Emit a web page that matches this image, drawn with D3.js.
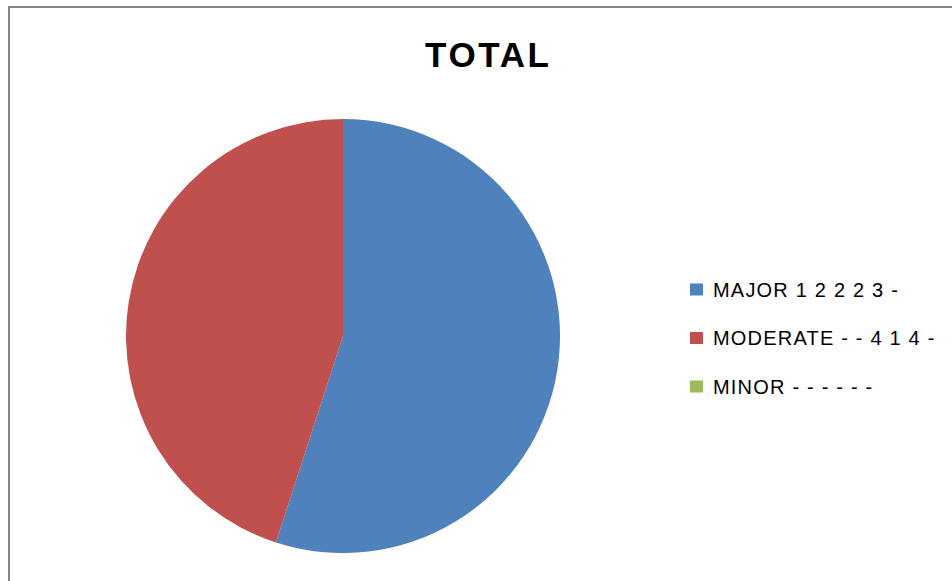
<!DOCTYPE html>
<html>
<head>
<meta charset="utf-8">
<script src="https://cdn.jsdelivr.net/npm/d3@7"></script>
<style>
  body { margin: 0; background: #fff; }
  svg { display: block; }
</style>
</head>
<body>
<div id="chart"></div>
<script>
// pie chart "TOTAL"

var width = 952,
	height = 581;

var categories = ['MAJOR', 'MODERATE', 'MINOR'];
var legend_labels = ['MAJOR 1 2 2 2 3 -', 'MODERATE - - 4 1 4 -', 'MINOR - - - - - -'];
var values = [11, 9, 0];
var colors = ['#4f81bd', '#c0504d', '#9bbb59'];

var pie_data = categories.map(function(c, i) {
	return {name: c, value: values[i], label: legend_labels[i], color: colors[i]};
});

var svg = d3.select('#chart')
	.append('svg')
	.attr('width', width)
	.attr('height', height);

// chart area border (only left and top edges are inside the window)
svg.append('rect')
	.attr('x', 9)
	.attr('y', 7)
	.attr('width', 1000)
	.attr('height', 1000)
	.attr('fill', 'none')
	.attr('stroke', '#868686')
	.attr('stroke-width', 2);

svg.append('text')
	.attr('x', 487)
	.attr('y', 67)
	.attr('text-anchor', 'middle')
	.attr('textLength', 124)
	.attr('lengthAdjust', 'spacing')
	.style('font-family', 'Liberation Sans, Arial, sans-serif')
	.style('font-weight', 'bold')
	.style('font-size', '35px')
	.text('TOTAL');

var radius = 217;

var pie = d3.pie()
	.sort(null)
	.value(function(d) { return d.value; });

var arc = d3.arc()
	.innerRadius(0)
	.outerRadius(radius);

var g = svg.append('g')
	.attr('transform', 'translate(343,336)');

g.selectAll('path')
	.data(pie(pie_data))
	.enter().append('path')
	.attr('d', arc)
	.attr('fill', function(d) { return d.data.color; });

var legend = svg.append('g')
	.attr('transform', 'translate(690,289.5)');

var rows = legend.selectAll('g')
	.data(pie_data)
	.enter().append('g')
	.attr('transform', function(d, i) {
		return 'translate(0,' + (i * 48.5) + ')';
	});

rows.append('rect')
	.attr('x', 0)
	.attr('y', -6)
	.attr('width', 13)
	.attr('height', 12)
	.attr('fill', function(d) { return d.color; });

rows.append('text')
	.attr('x', 23)
	.attr('y', 0)
	.attr('dy', '0.35em')
	.style('font-family', 'Liberation Sans, Arial, sans-serif')
	.style('font-size', '20px')
	.style('letter-spacing', '1.2px')
	.text(function(d) { return d.label; });
</script>
</body>
</html>
